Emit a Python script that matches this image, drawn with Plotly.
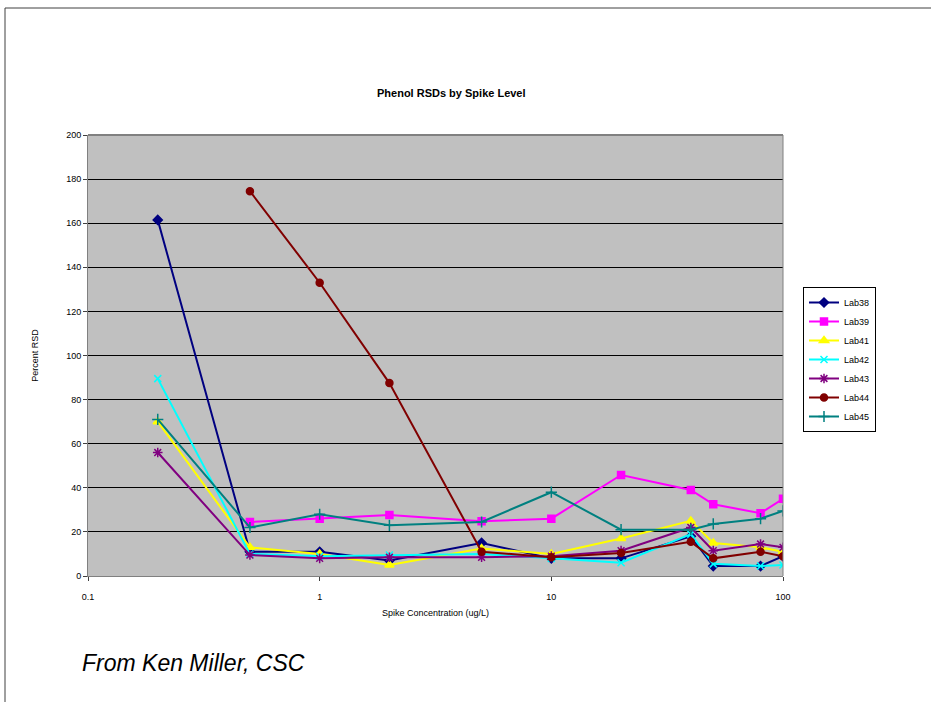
import plotly.graph_objects as go

# Spike concentrations (ug/L)
spike = [0.2, 0.5, 1, 2, 5, 10, 20, 40, 50, 80, 100]

# Percent RSD per lab (None where the lab reported no value)
lab38 = [161.5, 11, 11, 7, 15, 8, 8, 18, 4.5, 4.5, 9]
lab39 = [None, 24.5, 26, 27.7, 24.8, 26, 45.8, 39, 32.5, 28.5, 35]
lab41 = [70, 13, 10, 5, 12.5, 10, 17, 25, 15, 13, 11]
lab42 = [89.5, 10, 9, 9.5, 10, 8, 6, 19, 5.5, 4.5, 5]
lab43 = [56, 9.5, 8, 8.5, 8.5, 9, 11.5, 22, 11.5, 14.5, 13]
lab44 = [None, 174.5, 133, 87.5, 11, 8.5, 10.4, 15.5, 8, 11, 9]
lab45 = [71, 22, 28, 23, 24.5, 38, 21, 21, 23.6, 26, 29.5]

series = [
    ("Lab38", lab38, "#000080", "diamond", 7),
    ("Lab39", lab39, "#FF00FF", "square", 7),
    ("Lab41", lab41, "#FFFF00", "triangle-up", 8),
    ("Lab42", lab42, "#00FFFF", "x-thin-open", 7),
    ("Lab43", lab43, "#800080", "asterisk-open", 8),
    ("Lab44", lab44, "#800000", "circle", 7),
    ("Lab45", lab45, "#008080", "cross-thin-open", 8),
]

x_ticks = [0.1, 1, 10, 100]
x_tick_text = ["0.1", "1", "10", "100"]
y_ticks = list(range(0, 201, 20))

fig = go.Figure()
for name, vals, color, symbol, size in series:
    fig.add_trace(go.Scatter(
        x=spike, y=vals, name=name, mode="lines+markers",
        connectgaps=False,
        line=dict(color=color, width=2),
        marker=dict(symbol=symbol, size=size, color=color,
                    line=dict(color=color, width=1.5)),
    ))

# plot area in pixels: x 88..783, y 135..576
L, R, T, B = 88, 148, 135, 126
W, H = 931, 702
pw, ph = W - L - R, H - T - B

def px(x):
    return (x - L) / pw

def py(y):
    return (H - B - y) / ph

font_main = "Liberation Sans, Arial, sans-serif"

fig.update_layout(
    width=W, height=H,
    margin=dict(l=L, r=R, t=T, b=B),
    paper_bgcolor="white",
    plot_bgcolor="#c0c0c0",
    showlegend=True,
    font=dict(family=font_main, size=9, color="#000000"),
    xaxis=dict(
        type="log", range=[-1, 2],
        tickvals=x_ticks, ticktext=x_tick_text,
        showgrid=False, zeroline=False,
        showline=True, linecolor="#808080", linewidth=1,
        ticks="outside", ticklen=4, tickcolor="#404040",
        ticklabelstandoff=8,
        tickfont=dict(size=9, family=font_main),
        title=dict(text="Spike Concentration (ug/L)", font=dict(size=9, family=font_main), standoff=8),
        mirror=False,
    ),
    yaxis=dict(
        range=[0, 200], tickvals=y_ticks,
        showgrid=True, gridcolor="#000000", gridwidth=1,
        zeroline=False,
        showline=True, linecolor="#808080", linewidth=1,
        ticks="outside", ticklen=4, tickcolor="#404040",
        tickfont=dict(size=9, family=font_main),
        title=dict(text="Percent RSD", font=dict(size=9, family=font_main), standoff=26),
    ),
    legend=dict(
        x=px(803), y=py(287), xanchor="left", yanchor="top",
        bgcolor="white", bordercolor="#000000", borderwidth=1,
        font=dict(size=9, family=font_main),
        tracegroupgap=0, itemwidth=30,
    ),
    shapes=[
        # outer chart frame
        dict(type="rect", xref="paper", yref="paper",
             x0=px(5), x1=px(940), y0=py(710), y1=py(8),
             line=dict(color="#404040", width=1), layer="below"),
        # plot area edges
        dict(type="line", xref="paper", yref="paper",
             x0=1, x1=1, y0=0, y1=1,
             line=dict(color="#808080", width=1)),
        dict(type="line", xref="paper", yref="paper",
             x0=0, x1=1, y0=1, y1=1,
             line=dict(color="#808080", width=2)),
    ],
    annotations=[
        dict(text="<b>Phenol RSDs by Spike Level</b>", xref="paper", yref="paper",
             x=px(451), y=py(93), xanchor="center", yanchor="middle",
             showarrow=False, font=dict(size=11, family="Liberation Sans Narrow, Liberation Sans, Arial")),
        dict(text="<i>From Ken Miller, CSC</i>", xref="paper", yref="paper",
             x=px(80), y=py(663), xanchor="left", yanchor="middle",
             showarrow=False, font=dict(size=23, family="Liberation Sans Narrow, Liberation Sans, Arial")),
    ],
)

fig.write_html("out.html")
